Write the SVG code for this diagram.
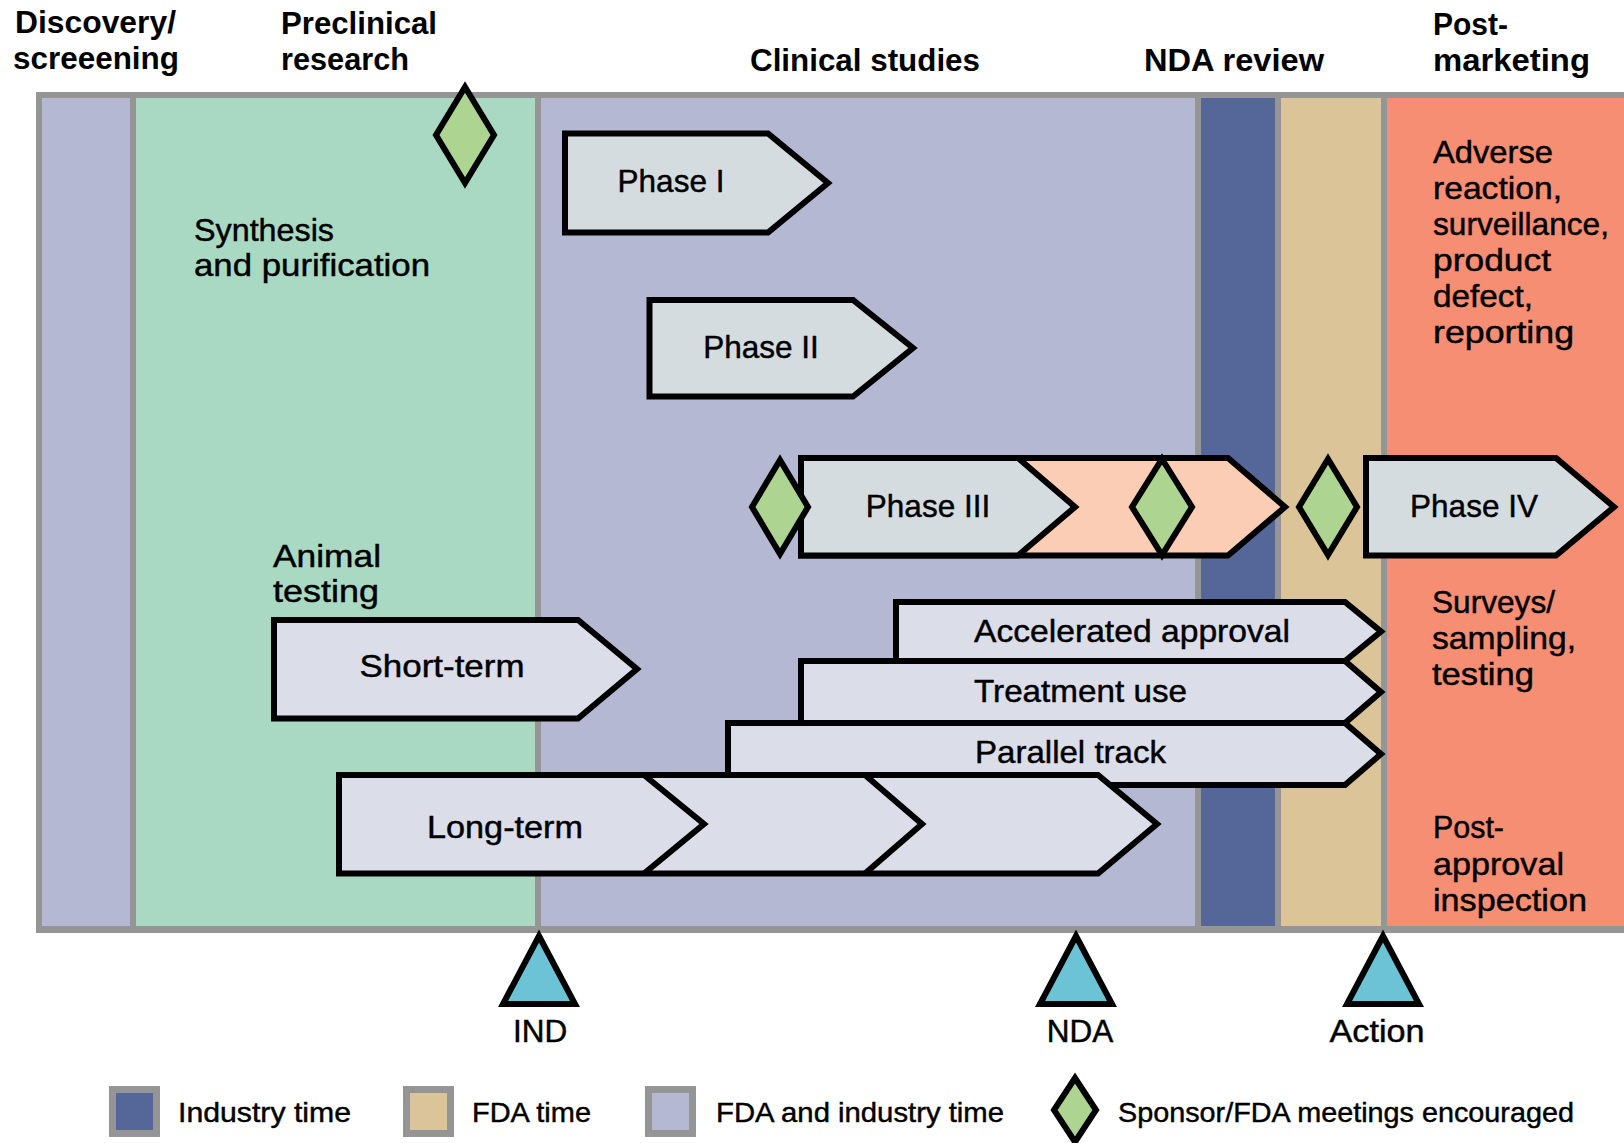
<svg xmlns="http://www.w3.org/2000/svg" width="1624" height="1143" viewBox="0 0 1624 1143">
<style>
text{font-family:"Liberation Sans",Arial,sans-serif;fill:#000}
.h{font-weight:bold;font-size:31px}
.b{font-size:31.5px;stroke:#000;stroke-width:0.45px}
.lg{font-size:28.5px;stroke:#000;stroke-width:0.45px}
.c{text-anchor:middle}
.chg{fill:#d5dcdf;stroke:#000;stroke-width:6;stroke-linejoin:miter}
.chl{fill:#dbdde9;stroke:#000;stroke-width:6;stroke-linejoin:miter}
.pch{fill:#fccdb5;stroke:#000;stroke-width:6;stroke-linejoin:miter}
.dia{fill:#add490;stroke:#000;stroke-width:6;stroke-linejoin:miter}
.tri{fill:#6cc3d6;stroke:#000;stroke-width:6;stroke-linejoin:miter}
.ln{fill:none;stroke:#000;stroke-width:6}
.gray{fill:#959595}
</style>
<rect width="1624" height="1143" fill="#fff"/>
<g id="headers">
<text class="h" x="15" y="33" textLength="161" lengthAdjust="spacingAndGlyphs">Discovery/</text>
<text class="h" x="13" y="69" textLength="166" lengthAdjust="spacingAndGlyphs">screeening</text>
<text class="h" x="281" y="34" textLength="156" lengthAdjust="spacingAndGlyphs">Preclinical</text>
<text class="h" x="281" y="70" textLength="128" lengthAdjust="spacingAndGlyphs">research</text>
<text class="h" x="750" y="71" textLength="230" lengthAdjust="spacingAndGlyphs">Clinical studies</text>
<text class="h" x="1144" y="71" textLength="180" lengthAdjust="spacingAndGlyphs">NDA review</text>
<text class="h" x="1433" y="35" textLength="75" lengthAdjust="spacingAndGlyphs">Post-</text>
<text class="h" x="1433" y="71" textLength="157" lengthAdjust="spacingAndGlyphs">marketing</text>
</g>
<g id="columns">
<rect class="gray" x="36" y="92" width="1600" height="841"/>
<rect x="42" y="98" width="88" height="828" fill="#b4b8d3"/>
<rect x="136" y="98" width="399" height="828" fill="#a9d9c2"/>
<rect x="541" y="98" width="654" height="828" fill="#b4b8d3"/>
<rect x="1201" y="98" width="74" height="828" fill="#556799"/>
<rect x="1281" y="98" width="100" height="828" fill="#dac498"/>
<rect x="1387" y="98" width="237" height="828" fill="#f68e74"/>
</g>
<g id="synthesis">
<text class="b" x="194" y="241" textLength="140" lengthAdjust="spacingAndGlyphs">Synthesis</text>
<text class="b" x="194" y="276" textLength="236" lengthAdjust="spacingAndGlyphs">and purification</text>
</g>
<g id="animal-testing">
<text class="b" x="273" y="567" textLength="108" lengthAdjust="spacingAndGlyphs">Animal</text>
<text class="b" x="273" y="602" textLength="106" lengthAdjust="spacingAndGlyphs">testing</text>
</g>
<g id="adverse">
<text class="b" x="1433" y="163" textLength="120" lengthAdjust="spacingAndGlyphs">Adverse</text>
<text class="b" x="1433" y="199" textLength="129" lengthAdjust="spacingAndGlyphs">reaction,</text>
<text class="b" x="1433" y="235" textLength="176" lengthAdjust="spacingAndGlyphs">surveillance,</text>
<text class="b" x="1433" y="271" textLength="118" lengthAdjust="spacingAndGlyphs">product</text>
<text class="b" x="1433" y="307" textLength="100" lengthAdjust="spacingAndGlyphs">defect,</text>
<text class="b" x="1433" y="343" textLength="141" lengthAdjust="spacingAndGlyphs">reporting</text>
</g>
<g id="surveys">
<text class="b" x="1432" y="613" textLength="123" lengthAdjust="spacingAndGlyphs">Surveys/</text>
<text class="b" x="1432" y="649" textLength="144" lengthAdjust="spacingAndGlyphs">sampling,</text>
<text class="b" x="1432" y="685" textLength="102" lengthAdjust="spacingAndGlyphs">testing</text>
</g>
<g id="post-approval">
<text class="b" x="1433" y="838" textLength="71" lengthAdjust="spacingAndGlyphs">Post-</text>
<text class="b" x="1433" y="875" textLength="131" lengthAdjust="spacingAndGlyphs">approval</text>
<text class="b" x="1433" y="911" textLength="154" lengthAdjust="spacingAndGlyphs">inspection</text>
</g>
<g id="connectors"></g>
<g id="phase1">
<polygon class="chg" points="565,133.5 768,133.5 828,183 768,232.5 565,232.5"/>
<text class="b c" x="671" y="192">Phase I</text>
</g>
<g id="phase2">
<polygon class="chg" points="649.5,300 853,300 913,348 853,396.5 649.5,396.5"/>
<text class="b c" x="761" y="358">Phase II</text>
</g>
<g id="phase3">
<polygon class="pch" points="801,458 1228,458 1285,507 1228,555.5 801,555.5"/>
<polygon class="chg" points="801,458 1018,458 1075,507 1018,555.5 801,555.5"/>
<text class="b c" x="928" y="517">Phase III</text>
</g>
<g id="phase4">
<polygon class="chg" points="1366,458 1556,458 1614,507 1556,555.5 1366,555.5"/>
<text class="b c" x="1474" y="517">Phase IV</text>
</g>
<g id="short-term">
<polygon class="chl" points="274,620 578,620 637,669 578,718.5 274,718.5"/>
<text class="b c" x="442" y="677" textLength="165" lengthAdjust="spacingAndGlyphs">Short-term</text>
</g>
<g id="accelerated-approval">
<polygon class="chl" points="896,602 1345,602 1381,631.5 1345,661 896,661"/>
<text class="b" x="974" y="642" textLength="316" lengthAdjust="spacingAndGlyphs">Accelerated approval</text>
</g>
<g id="treatment-use">
<polygon class="chl" points="801,661 1345,661 1381,692 1345,723 801,723"/>
<text class="b" x="974" y="702" textLength="213" lengthAdjust="spacingAndGlyphs">Treatment use</text>
</g>
<g id="parallel-track">
<polygon class="chl" points="728,723 1345,723 1381,754 1345,785 728,785"/>
<text class="b" x="975" y="763" textLength="191" lengthAdjust="spacingAndGlyphs">Parallel track</text>
</g>
<g id="long-term">
<polygon class="chl" points="339,775 1098,775 1157,824 1098,873.5 339,873.5"/>
<polyline class="ln" points="644,775 704,824 644,873.5"/>
<polyline class="ln" points="865,775 922,824 865,873.5"/>
<text class="b c" x="505" y="838" textLength="156" lengthAdjust="spacingAndGlyphs">Long-term</text>
</g>
<g id="meetings">
<polygon class="dia" points="465,87 494,135 465,183 436,135"/>
<polygon class="dia" points="780,460 808,507 780,554 752,507"/>
<polygon class="dia" points="1162,459 1192,507 1162,555 1132,507"/>
<polygon class="dia" points="1328,459 1357,507 1328,555 1299,507"/>
</g>
<g id="ind">
<polygon class="tri" points="539,936 575,1004 503,1004"/>
<text class="b c" x="540" y="1042">IND</text>
</g>
<g id="nda">
<polygon class="tri" points="1076,936 1112,1004 1040,1004"/>
<text class="b c" x="1080" y="1042">NDA</text>
</g>
<g id="action">
<polygon class="tri" points="1383,936 1419,1004 1347,1004"/>
<text class="b c" x="1377" y="1042" textLength="95" lengthAdjust="spacingAndGlyphs">Action</text>
</g>
<g id="legend">
<rect class="gray" x="109" y="1086" width="51" height="51"/>
<rect x="116" y="1093" width="37" height="37" fill="#556799"/>
<text class="lg" x="178" y="1122" textLength="173" lengthAdjust="spacingAndGlyphs">Industry time</text>
<rect class="gray" x="403" y="1086" width="51" height="51"/>
<rect x="410" y="1093" width="37" height="37" fill="#dac498"/>
<text class="lg" x="472" y="1122" textLength="119" lengthAdjust="spacingAndGlyphs">FDA time</text>
<rect class="gray" x="645" y="1086" width="51" height="51"/>
<rect x="652" y="1093" width="37" height="37" fill="#b4b8d3"/>
<text class="lg" x="716" y="1122" textLength="288" lengthAdjust="spacingAndGlyphs">FDA and industry time</text>
<polygon class="dia" points="1075,1078 1096,1110 1075,1142 1054,1110"/>
<text class="lg" x="1118" y="1122" textLength="456" lengthAdjust="spacingAndGlyphs">Sponsor/FDA meetings encouraged</text>
</g>
</svg>
